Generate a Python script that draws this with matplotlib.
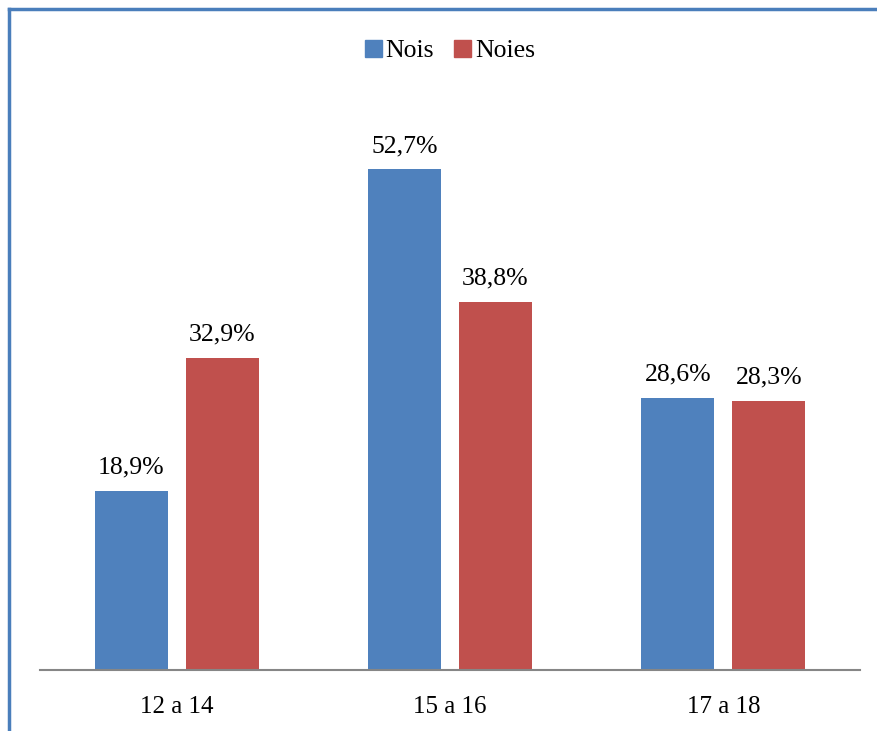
import matplotlib.pyplot as plt
import numpy as np
from matplotlib.lines import Line2D
from matplotlib.patches import Patch

plt.rcParams['font.family'] = ['Liberation Serif', 'DejaVu Serif']

grups = ["12 a 14", "15 a 16", "17 a 18"]
nois = [18.9, 52.7, 28.6]
noies = [32.9, 38.8, 28.3]

blau = "#4F81BD"
vermell = "#C0504D"

fig = plt.figure(figsize=(8.77, 7.31), dpi=100)
ax = fig.add_axes([0.0456, 0.0834, 0.935, 0.7796])

x = np.arange(len(grups))
w = 0.267
b1 = ax.bar(x - 0.1667, nois, w, color=blau, label="Nois")
b2 = ax.bar(x + 0.1667, noies, w, color=vermell, label="Noies")

for bars, vals in ((b1, nois), (b2, noies)):
    for r, v in zip(bars, vals):
        ax.annotate(f"{v:.1f}%".replace(".", ","),
                    (r.get_x() + r.get_width() / 2, v),
                    xytext=(0, 9), textcoords="offset points",
                    ha="center", va="bottom", fontsize=18.5)

ax.set_xlim(-0.5, 2.5)
ax.set_ylim(0, 60)
ax.set_xticks(x)
ax.set_xticklabels(grups, fontsize=18)
ax.tick_params(axis="x", length=0, pad=19)
ax.set_yticks([])
for s in ("top", "right", "left"):
    ax.spines[s].set_visible(False)
ax.spines["bottom"].set_color("#868686")
ax.spines["bottom"].set_linewidth(1.5)

handles = [Patch(color=blau), Patch(color=vermell)]
fig.legend(handles, ["Nois", "Noies"], loc="center", bbox_to_anchor=(0.513, 0.930),
           ncol=2, frameon=False, fontsize=18.5, handlelength=0.65, handleheight=0.65,
           handletextpad=0.15, columnspacing=0.8)

# marc blau del gràfic
fig.add_artist(Line2D([9 / 877, 1.0], [1 - 9 / 731, 1 - 9 / 731], color="#4A7EBB", lw=2.5,
                      transform=fig.transFigure))
fig.add_artist(Line2D([9 / 877, 9 / 877], [0, 1 - 9 / 731], color="#4A7EBB", lw=2.5,
                      transform=fig.transFigure))

fig.savefig("out.png", dpi=100)
